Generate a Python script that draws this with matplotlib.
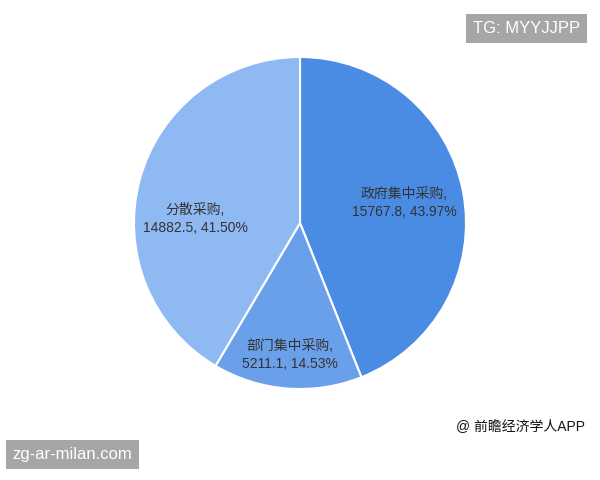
import matplotlib
matplotlib.use("Agg")
import matplotlib.pyplot as plt
import numpy as np

plt.rcParams['font.family'] = ['Liberation Sans', 'Noto Sans CJK SC', 'DejaVu Sans']

categories = ['政府集中采购', '部门集中采购', '分散采购']
values = [15767.8, 5211.1, 14882.5]
percents = ['43.97%', '14.53%', '41.50%']
colors = ['#4A8BE3', '#6AA0EA', '#8FB9F2']

fig = plt.figure(figsize=(6, 4.8), dpi=100)
w = 332 / 600
h = 332 / 480
cx = 0.5
cy = (480 - 223) / 480
ax = fig.add_axes([cx - w / 2, cy - h / 2, w, h])
wedges, _ = ax.pie(values, colors=colors, startangle=90, counterclock=False,
                   wedgeprops=dict(edgecolor='white', linewidth=1.5))
ax.set_xlim(-1, 1)
ax.set_ylim(-1, 1)
ax.set_aspect('equal')
ax.axis('off')

# label positions: (radius, angle offset in deg) relative to wedge mid-angle
label_r = [0.64, 0.80, 0.63]
label_off = [0, 0, 13]
for wd, cat, v, p, r, off in zip(wedges, categories, values, percents, label_r, label_off):
    ang = np.deg2rad((wd.theta1 + wd.theta2) / 2 + off)
    x, y = r * np.cos(ang), r * np.sin(ang)
    ax.text(x, y, f'{cat},\n{v:.1f}, {p}', ha='center', va='center',
            fontsize=10, color='#333333', linespacing=1.35)

fig.text(0.8775, 0.9415, 'TG: MYYJJPP', ha='center', va='center', fontsize=12,
         color='white', bbox=dict(boxstyle='square,pad=0.42', fc='#A6A6A6', ec='none'))
fig.text(0.1208, 0.0521, 'zg-ar-milan.com', ha='center', va='center', fontsize=12,
         color='white', bbox=dict(boxstyle='square,pad=0.42', fc='#A6A6A6', ec='none'))
fig.text(0.975, 0.113, '@ 前瞻经济学人APP', ha='right', va='center', fontsize=10,
         color='#111111')

fig.savefig('out.png', dpi=100)
